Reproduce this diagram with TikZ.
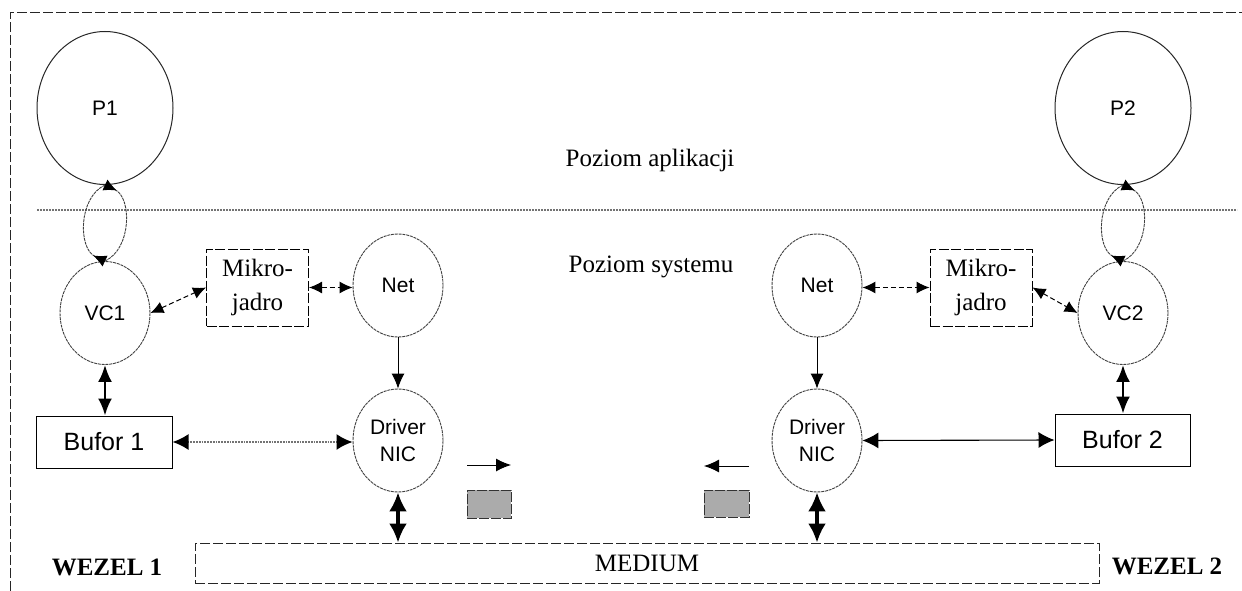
\documentclass[tikz,border=0pt]{standalone}
\usepackage{fontspec}
\setmainfont{Liberation Serif}
\newfontfamily\sansf{Liberation Sans}
\usetikzlibrary{shapes.geometric,arrows.meta}
\begin{document}
\begin{tikzpicture}[x=1pt,y=-1pt,
  bigproc/.style={ellipse, draw=black!85, line width=1pt, inner sep=0pt,
    minimum width=136, minimum height=153, font=\sansf\fontsize{21}{24}\selectfont},
  smallproc/.style={ellipse, draw=black!75, line width=0.9pt, dash pattern=on 3pt off 0.8pt,
    inner sep=0pt, minimum width=90, minimum height=103, align=center,
    font=\sansf\fontsize{21}{27}\selectfont},
  mikro/.style={rectangle, draw=black, line width=1pt, dash pattern=on 10pt off 2.5pt,
    inner sep=0pt, minimum width=102, minimum height=77, align=center,
    font=\fontsize{25}{34}\selectfont},
  bufor/.style={rectangle, draw=black, line width=1pt, inner sep=0pt,
    minimum width=136, minimum height=52, font=\sansf\fontsize{25}{30}\selectfont},
  packet/.style={rectangle, draw=black!80, fill=black!33, line width=1pt,
    dash pattern=on 10pt off 2pt, inner sep=0pt, minimum width=44, minimum height=28},
  label/.style={inner sep=0pt, anchor=base, font=\fontsize{25}{30}\selectfont},
  dasharr/.style={line width=1pt, dash pattern=on 5pt off 3pt,
    {Latex[length=13pt,width=12pt]}-{Latex[length=13pt,width=12pt]}},
  thinarr/.style={line width=1pt, -{Latex[length=15pt,width=13pt]}},
  dblarr/.style={line width=1.1pt, {Latex[length=16pt,width=16pt]}-{Latex[length=16pt,width=16pt]}},
  dotarr/.style={line width=1.8pt, draw=black!55, densely dotted,
    {Latex[length=16pt,width=16pt,fill=black,color=black]}-{Latex[length=16pt,width=16pt,fill=black,color=black]}},
  thickarr/.style={line width=2.4pt, {Latex[length=17pt,width=14pt]}-{Latex[length=17pt,width=14pt]}},
  vthickarr/.style={line width=3.2pt, {Latex[length=19pt,width=18pt]}-{Latex[length=19pt,width=18pt]}},
  looparc/.style={line width=0.9pt, draw=black!75, dash pattern=on 3pt off 0.8pt,
    {Latex[reversed,length=13pt,width=12pt,color=black]}-}
]
\useasboundingbox (0,0) rectangle (1242,591);
% outer dashed frame
\draw[line width=1pt, dash pattern=on 10pt off 3pt, black!85] (10,591) -- (10,13) -- (1242,13);
% level separator
\draw[line width=2pt, black!55, densely dotted] (37,210) -- (1237,210);
\node[label] (lapp) at (650,166) {Poziom aplikacji};
\node[label] (lsys) at (651,272) {Poziom systemu};

% processes
\node[bigproc] (P1) at (105,108) {P1};
\node[bigproc] (P2) at (1123,108) {P2};
\node[smallproc] (VC1) at (105,313) {VC1};
\node[smallproc] (VC2) at (1123,313) {VC2};
\node[smallproc] (Net1) at (398,285.5) {Net};
\node[smallproc] (Net2) at (817,285.5) {Net};
\node[smallproc] (Drv1) at (398,440.5) {Driver\\NIC};
\node[smallproc] (Drv2) at (817,440.5) {Driver\\NIC};
\node[mikro] (Mk1) at (257.5,287.5) {Mikro-\\jadro};
\node[mikro] (Mk2) at (981,287.5) {Mikro-\\jadro};
\node[bufor] (B1) at (104,442) {Bufor 1};
\node[bufor, minimum width=135] (B2) at (1122.5,440) {Bufor 2};
\node[rectangle, draw=black!85, line width=1pt, dash pattern=on 10pt off 3pt,
  minimum width=904, minimum height=40, inner sep=0pt,
  font=\fontsize{25}{30}\selectfont] (Med) at (647,563) {MEDIUM};
\node[label, font=\bfseries\fontsize{25}{30}\selectfont] (W1) at (107,575) {WEZEL 1};
\node[label, font=\bfseries\fontsize{25}{30}\selectfont] (W2) at (1167,574) {WEZEL 2};

% packets and direction arrows
\node[packet] (pk1) at (489,504) {};
\node[packet, minimum width=45, minimum height=27] (pk2) at (726.5,503.5) {};
\coordinate (d1a) at (467,465);
\coordinate (d1b) at (511,465);
\coordinate (d2a) at (749,466);
\coordinate (d2b) at (704,466);
\draw[thinarr] (d1a) -- (d1b);
\draw[thinarr] (d2a) -- (d2b);

% P <-> VC loops
\draw[looparc] (VC1.north) to[bend left=65] (P1.south);
\draw[looparc] (P1.south) to[bend left=65] (VC1.north);
\draw[looparc] (VC2.north) to[bend left=65] (P2.south);
\draw[looparc] (P2.south) to[bend left=65] (VC2.north);

% left node
\draw[dasharr] (VC1.east) -- (Mk1.west);
\draw[dasharr] (Mk1.east) -- (Net1.west |- Mk1.east);
\draw[thinarr] (Net1) -- (Drv1);
\draw[thickarr] (VC1.south) -- (VC1.south |- B1.north);
\draw[dotarr] (B1.east) -- (Drv1.west |- B1.east);
\draw[vthickarr] (Drv1.south) -- (Drv1.south |- Med.north);

% right node
\draw[dasharr] (Net2.east |- Mk2.west) -- (Mk2.west);
\draw[dasharr] (Mk2.east) -- (VC2.west);
\draw[thinarr] (Net2) -- (Drv2);
\draw[thickarr] (VC2.south) -- (VC2.south |- B2.north);
\draw[dblarr] (Drv2.east) -- (B2.west);
\draw[vthickarr] (Drv2.south) -- (Drv2.south |- Med.north);
\end{tikzpicture}
\end{document}
